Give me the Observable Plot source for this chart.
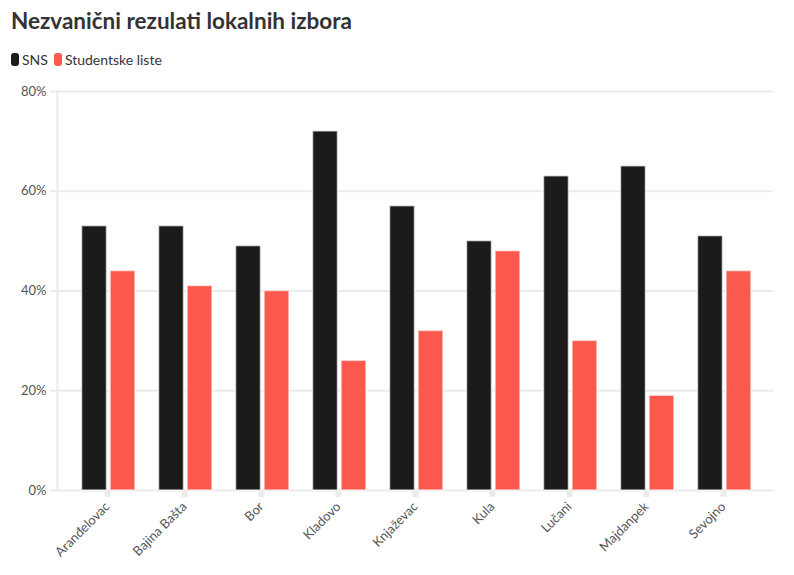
<!DOCTYPE html>
<html>
<head>
<meta charset="utf-8">
<script src="https://cdn.jsdelivr.net/npm/d3@7"></script>
<script src="https://cdn.jsdelivr.net/npm/@observablehq/plot@0.6"></script>
<style>
  html, body { margin: 0; padding: 0; background: #fff; }
  body { width: 794px; height: 575px; position: relative; overflow: hidden; font-family: Lato, "Noto Sans", sans-serif; }
  #title { position: absolute; left: 11px; top: 7px; font-size: 22.5px; font-weight: 700; color: #333; letter-spacing: 0; }
  #legend { position: absolute; left: 11px; top: 51px; font-size: 14px; color: #333; display: flex; align-items: center; }
  #legend .sw { display: inline-block; width: 8px; height: 13px; border-radius: 3px; margin-right: 3px; }
  #legend .item { display: inline-flex; align-items: center; margin-right: 6px; }
  #chart { position: absolute; left: 0; top: 78px; }
</style>
</head>
<body>
<div id="title">Nezvanični rezulati lokalnih izbora</div>
<div id="legend"></div>
<div id="chart"></div>
<script>
const cities = ["Aranđelovac", "Bajina Bašta", "Bor", "Kladovo", "Knjaževac", "Kula", "Lučani", "Majdanpek", "Sevojno"];
const sns = [53, 53, 49, 72, 57, 50, 63, 65, 51];
const studentske = [44, 41, 40, 26, 32, 48, 30, 19, 44];
const seriesNames = ["SNS", "Studentske liste"];
const seriesColors = ["#1b1b1b", "#fc594e"];
const yTicks = [0, 20, 40, 60, 80];

const data = cities.map((c, i) => ({city: c, sns: sns[i], studentske: studentske[i]}));

const legend = document.getElementById("legend");
seriesNames.forEach((n, i) => {
  const it = document.createElement("span");
  it.className = "item";
  it.innerHTML = `<span class="sw" style="background:${seriesColors[i]}"></span>${n}`;
  legend.appendChild(it);
});

const chart = Plot.plot({
  width: 794,
  height: 497,
  marginLeft: 57,
  marginRight: 21,
  marginTop: 13,
  marginBottom: 85,
  style: {fontFamily: "Lato, 'Noto Sans', sans-serif", fontSize: "13px", color: "#555", background: "transparent"},
  x: {domain: cities, padding: 0.3, round: false, label: null},
  y: {domain: [0, 80], label: null},
  marks: [
    Plot.gridY(yTicks, {stroke: "#ebebeb", strokeOpacity: 1, strokeWidth: 2}),
    Plot.frame({anchor: "left", stroke: "#ebebeb", strokeOpacity: 1, strokeWidth: 2}),
    Plot.axisY(yTicks, {tickSize: 7, tickPadding: 4, stroke: "#ebebeb", strokeWidth: 2, tickFormat: d => d + "%", fill: "#555", label: null}),
    Plot.axisX({tickSize: 7, stroke: "#ebebeb", strokeWidth: 6, tickFormat: () => "", label: null}),
    Plot.axisX({tickSize: 0, tickPadding: 14, tickRotate: -45, fill: "#555", label: null}),
    Plot.barY(data, {x: "city", y: "sns", fill: seriesColors[0], stroke: "white", strokeOpacity: 0.6, strokeWidth: 1.5, insetLeft: 1.5, insetRight: 27.5}),
    Plot.barY(data, {x: "city", y: "studentske", fill: seriesColors[1], stroke: "white", strokeOpacity: 0.6, strokeWidth: 1.5, insetLeft: 30, insetRight: -1})
  ]
});
document.getElementById("chart").appendChild(chart);
</script>
</body>
</html>
